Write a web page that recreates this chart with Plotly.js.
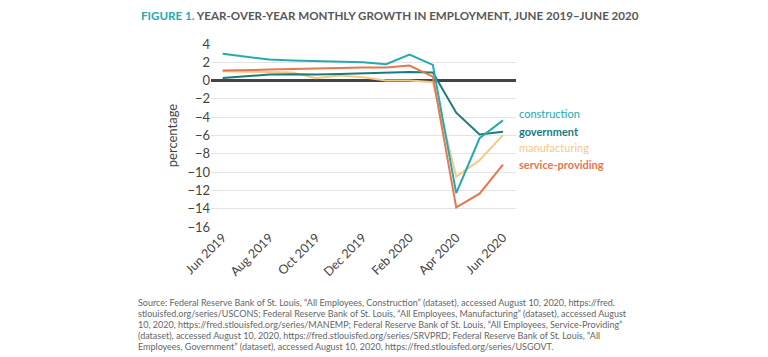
<!DOCTYPE html>
<html><head><meta charset="utf-8">
<script src="https://cdn.plot.ly/plotly-3.0.1.min.js"></script>
<style>html,body{margin:0;padding:0;background:#fff}#chart{width:768px;height:357px}</style>
</head><body><div id="chart"></div>
<script>
const months = ["Jun 2019","Jul 2019","Aug 2019","Sep 2019","Oct 2019","Nov 2019","Dec 2019","Jan 2020","Feb 2020","Mar 2020","Apr 2020","May 2020","Jun 2020"];
const tickLabels = ["Jun 2019","Aug 2019","Oct 2019","Dec 2019","Feb 2020","Apr 2020","Jun 2020"];
const construction = [2.93, 2.63, 2.3, 2.19, 2.12, 2.12, 2.0, 1.8, 2.85, 1.72, -12.3, -6.3, -4.35];
const government = [0.29, 0.51, 0.66, 0.69, 0.66, 0.73, 0.8, 0.84, 0.95, 0.88, -3.51, -5.89, -5.59];
const manufacturing = [1.02, 0.95, 0.95, 0.88, 0.26, 0.55, 0.37, 0.0, 0.0, -0.18, -10.5, -8.7, -5.96];
const serviceProviding = [1.1, 1.13, 1.2, 1.28, 1.35, 1.43, 1.43, 1.43, 1.65, 0.44, -13.86, -12.36, -9.18];
const sourceLines = [
 "Source: Federal Reserve Bank of St. Louis, “All Employees, Construction” (dataset), accessed August 10, 2020, https://fred.",
 "stlouisfed.org/series/USCONS; Federal Reserve Bank of St. Louis, “All Employees, Manufacturing” (dataset), accessed August",
 "10, 2020, https://fred.stlouisfed.org/series/MANEMP; Federal Reserve Bank of St. Louis, “All Employees, Service-Providing”",
 "(dataset), accessed August 10, 2020, https://fred.stlouisfed.org/series/SRVPRD; Federal Reserve Bank of St. Louis, “All",
 "Employees, Government” (dataset), accessed August 10, 2020, https://fred.stlouisfed.org/series/USGOVT."
];

const colors = {construction:"#26a9b3", government:"#1b7b7c", manufacturing:"#f6c983", service:"#e8764f"};

const traces = [
  {x: months, y: manufacturing, name: "manufacturing", line:{color:colors.manufacturing, width:2}},
  {x: months, y: government, name: "government", line:{color:colors.government, width:2}},
  {x: months, y: serviceProviding, name: "service-providing", line:{color:colors.service, width:2}},
  {x: months, y: construction, name: "construction", line:{color:colors.construction, width:2}}
].map(t => Object.assign({type:"scatter", mode:"lines", hoverinfo:"skip"}, t));

const W = 768, H = 357;
const M = {l:211, r:252, t:44, b:130};
const plotW = W - M.l - M.r, plotH = H - M.t - M.b;
const px2x = px => (px - M.l) / plotW;
const px2y = py => 1 - (py - M.t) / plotH;

const labelFont = {family:"Lato, 'Open Sans', sans-serif", size:11};
const annotations = [
  {xref:"paper", yref:"paper", x:px2x(139), y:px2y(15), xanchor:"left", yanchor:"middle", showarrow:false,
   text:"<b><span style='color:#26a9b3'>FIGURE 1.</span> YEAR-OVER-YEAR MONTHLY GROWTH IN EMPLOYMENT, JUNE 2019–JUNE 2020</b>",
   font:{family:"Lato, sans-serif", size:11.6, color:"#585858"}},
];
const seriesLabels = [
  {text:"construction", color:colors.construction, py:113},
  {text:"<b>government</b>", color:colors.government, py:131},
  {text:"manufacturing", color:colors.manufacturing, py:147},
  {text:"<b>service-providing</b>", color:colors.service, py:164}
];
seriesLabels.forEach(s => annotations.push({xref:"paper", yref:"paper", x:px2x(517), y:px2y(s.py),
  xanchor:"left", yanchor:"middle", showarrow:false, text:s.text, font:Object.assign({}, labelFont, {color:s.color})}));
sourceLines.forEach((line, i) => annotations.push({xref:"paper", yref:"paper", x:px2x(136), y:px2y(302 + i*11),
  xanchor:"left", yanchor:"middle", showarrow:false, text:line,
  font:{family:"Lato, 'Open Sans', sans-serif", size:9, color:"#666"}}));

const layout = {
  width:W, height:H,
  margin:M,
  paper_bgcolor:"#fff", plot_bgcolor:"#fff",
  showlegend:false,
  font:{family:"Lato, 'Open Sans', sans-serif", color:"#444", size:12},
  xaxis:{type:"category", range:[-0.5, 12.56], tickmode:"array", tickvals:tickLabels, ticktext:tickLabels,
         tickangle:-45, showgrid:false, zeroline:false, showline:false, ticks:"", tickfont:{size:12.5, color:"#444"}},
  yaxis:{range:[-16, 4], dtick:2, tick0:0, showgrid:true, gridcolor:"#e4e4e4", gridwidth:1,
         zeroline:true, zerolinecolor:"#444", zerolinewidth:2.5, ticks:"", showline:false,
         tickfont:{size:13, color:"#444"},
         title:{text:"percentage", font:{size:13, color:"#444"}, standoff:6}},
  annotations:annotations
};

Plotly.newPlot("chart", traces, layout, {staticPlot:true, displayModeBar:false});
</script>
</body></html>
